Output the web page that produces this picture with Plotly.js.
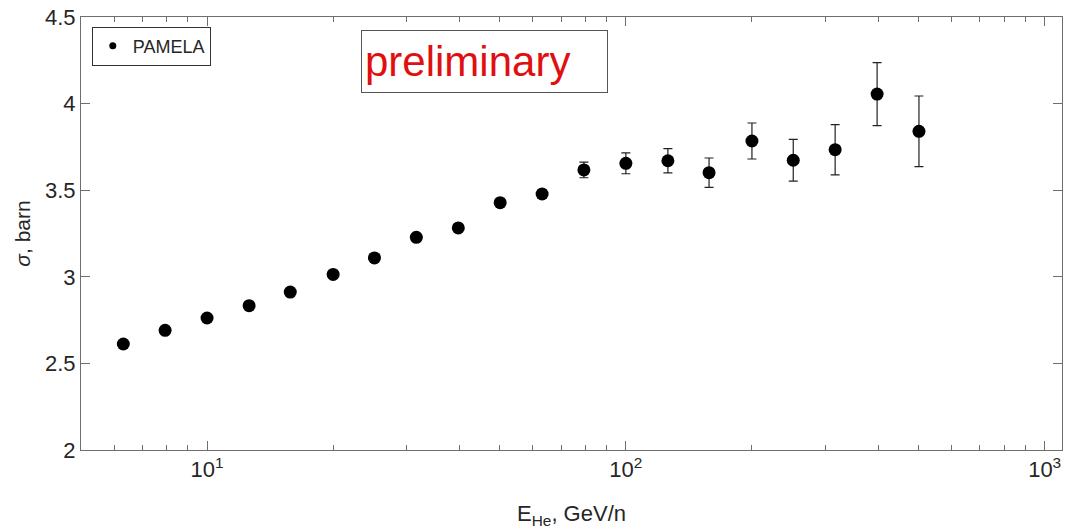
<!DOCTYPE html>
<html>
<head>
<meta charset="utf-8">
<script src="https://cdn.plot.ly/plotly-3.0.1.min.js"></script>
<style>html,body{margin:0;padding:0;background:#fff;}#chart{width:1069px;height:532px;}</style>
</head>
<body>
<div id="chart"></div>
<script>
// Energy bins (GeV/n)
const energy = [6.31, 7.94, 10.0, 12.6, 15.8, 20.0, 25.1, 31.6, 39.8, 50.1,
                63.1, 79.4, 100, 126, 158, 200, 251, 316, 398, 501];
// Cross section (barn)
const sigma = [2.612, 2.691, 2.762, 2.833, 2.912, 3.014, 3.109, 3.228, 3.282, 3.428,
               3.478, 3.617, 3.655, 3.670, 3.601, 3.784, 3.673, 3.734, 4.055, 3.840];
// Errors (barn)
const sigmaErr = [0.008, 0.008, 0.008, 0.008, 0.009, 0.009, 0.010, 0.010, 0.012, 0.015,
                  0.025, 0.045, 0.060, 0.070, 0.085, 0.104, 0.121, 0.145, 0.182, 0.204];
const xMajorTicks = [10, 100, 1000];
const xMajorLabels = ['10<sup>1</sup>', '10<sup>2</sup>', '10<sup>3</sup>'];
const xMinorTicks = [5, 6, 7, 8, 9, 20, 30, 40, 50, 60, 70, 80, 90, 200, 300, 400, 500, 600, 700, 800, 900];

const font = 'Liberation Sans, Arial, Helvetica, sans-serif';
const axisColor = '#6e6e6e';
const textColor = '#262626';

const data = [
  {
    x: energy, y: sigma, type: 'scatter', mode: 'markers', name: 'PAMELA', showlegend: false,
    marker: {color: '#000', size: 13},
    error_y: {type: 'data', array: sigmaErr, visible: true, color: '#222', thickness: 1.2, width: 4.5}
  },
  {
    x: [null], y: [null], type: 'scatter', mode: 'markers', name: 'PAMELA', showlegend: true,
    marker: {color: '#000', size: 7},
    error_y: {type: 'data', array: [0], visible: true, color: '#222', thickness: 1.2, width: 4}
  }
];

const layout = {
  width: 1069, height: 532,
  margin: {l: 81, r: 7, t: 17, b: 82},
  paper_bgcolor: '#fff', plot_bgcolor: '#fff',
  font: {family: font, color: textColor, size: 22},
  xaxis: {
    type: 'log',
    range: [Math.log10(5), Math.log10(1100)],
    tickvals: xMajorTicks, ticktext: xMajorLabels,
    ticks: 'inside', ticklen: 9, tickwidth: 1, tickcolor: axisColor,
    minor: {tickvals: xMinorTicks, ticks: 'inside', ticklen: 5, tickwidth: 1, tickcolor: axisColor, showgrid: false},
    showline: true, linecolor: axisColor, linewidth: 1, mirror: 'ticks',
    showgrid: false, zeroline: false,
    tickfont: {size: 22, color: textColor},
    title: {text: 'E<sub>He</sub>, GeV/n', font: {size: 22, color: textColor}, standoff: 24}
  },
  yaxis: {
    range: [2, 4.5], dtick: 0.5, tick0: 2,
    ticks: 'inside', ticklen: 9, tickwidth: 1, tickcolor: axisColor,
    showline: true, linecolor: axisColor, linewidth: 1, mirror: 'ticks',
    showgrid: false, zeroline: false,
    tickfont: {size: 22, color: textColor},
    title: {text: '<i>σ</i>, barn', font: {size: 21, color: textColor}, standoff: 8}
  },
  showlegend: true,
  legend: {
    x: 0.011, y: 0.978, xanchor: 'left', yanchor: 'top',
    bgcolor: '#fff', bordercolor: '#333', borderwidth: 1,
    font: {size: 18, color: textColor}, tracegroupgap: 0
  },
  annotations: [{
    xref: 'paper', yref: 'paper', x: 0.4113, y: 0.898, xanchor: 'center', yanchor: 'middle',
    text: 'preliminary', showarrow: false,
    font: {family: font, size: 42, color: '#e01010'},
    align: 'left', width: 239, height: 55,
    bgcolor: '#fff', bordercolor: '#555', borderwidth: 1, borderpad: 3
  }]
};

Plotly.newPlot('chart', data, layout, {displayModeBar: false, staticPlot: true});
</script>
</body>
</html>
